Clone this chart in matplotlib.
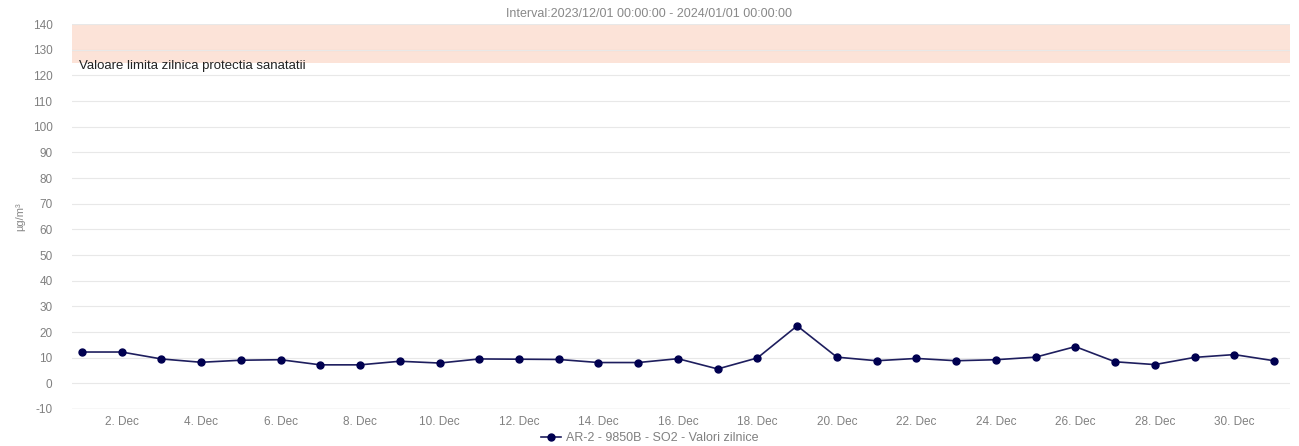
import matplotlib.pyplot as plt
import numpy as np

plt.rcParams['font.family'] = ['Liberation Sans', 'DejaVu Sans']
plt.rcParams['axes.unicode_minus'] = False

days = list(range(1, 32))
values = [12.2, 12.2, 9.5, 8.2, 9.0, 9.2, 7.2, 7.2, 8.6, 7.9,
          9.5, 9.4, 9.3, 8.1, 8.1, 9.6, 5.6, 9.9, 22.4, 10.2,
          8.8, 9.7, 8.8, 9.2, 10.2, 14.3, 8.4, 7.3, 10.1, 11.2, 8.8]
tick_days = list(range(2, 31, 2))
tick_labels = ['%d. Dec' % d for d in tick_days]
band_low, band_high = 125, 140
limit_value = 130
title = "Interval:2023/12/01 00:00:00 - 2024/01/01 00:00:00"
band_label = "Valoare limita zilnica protectia sanatatii"
series_name = "AR-2 - 9850B - SO2 - Valori zilnice"

fig = plt.figure(figsize=(12.99, 4.46), dpi=100)
ax = fig.add_axes([0.0554, 0.083, 0.9376, 0.863])

ax.axhspan(band_low, band_high, color='#fce3d8', zorder=0, lw=0)
ax.set_yticks(np.arange(-10, 141, 10))
ax.grid(axis='y', color='#e8e8e8', lw=0.8, zorder=1)
ax.axhline(limit_value, color='#e8cfc5', lw=0.8, zorder=1)

ax.plot(days, values, color='#1e1e5e', lw=1.2, marker='o', ms=5,
        markerfacecolor='#000050', markeredgecolor='#000050', zorder=3,
        label=series_name)

ax.text(0.92, 123.8, band_label, fontsize=9.5, color='#222222', va='center', ha='left')

ax.set_xlim(0.75, 31.4)
ax.set_ylim(-10, 140)
ax.set_xticks(tick_days)
ax.set_xticklabels(tick_labels)
ax.tick_params(axis='both', length=0, labelsize=8.5, labelcolor='#808080')
ax.tick_params(axis='y', pad=14)
ax.tick_params(axis='x', pad=5)
for s in ax.spines.values():
    s.set_visible(False)
ax.axhline(-10, color='#dddddd', lw=1, zorder=1)

ax.set_ylabel('µg/m³', fontsize=8, color='#888888', labelpad=5)
fig.text(0.5, 0.968, title, ha='center', va='center', fontsize=9, color='#888888')

fig.legend(loc='center', bbox_to_anchor=(0.5, 0.018), frameon=False, fontsize=9,
           labelcolor='#808080', handlelength=1.6, handletextpad=0.4)

fig.savefig('out.png', dpi=100, facecolor='white')
